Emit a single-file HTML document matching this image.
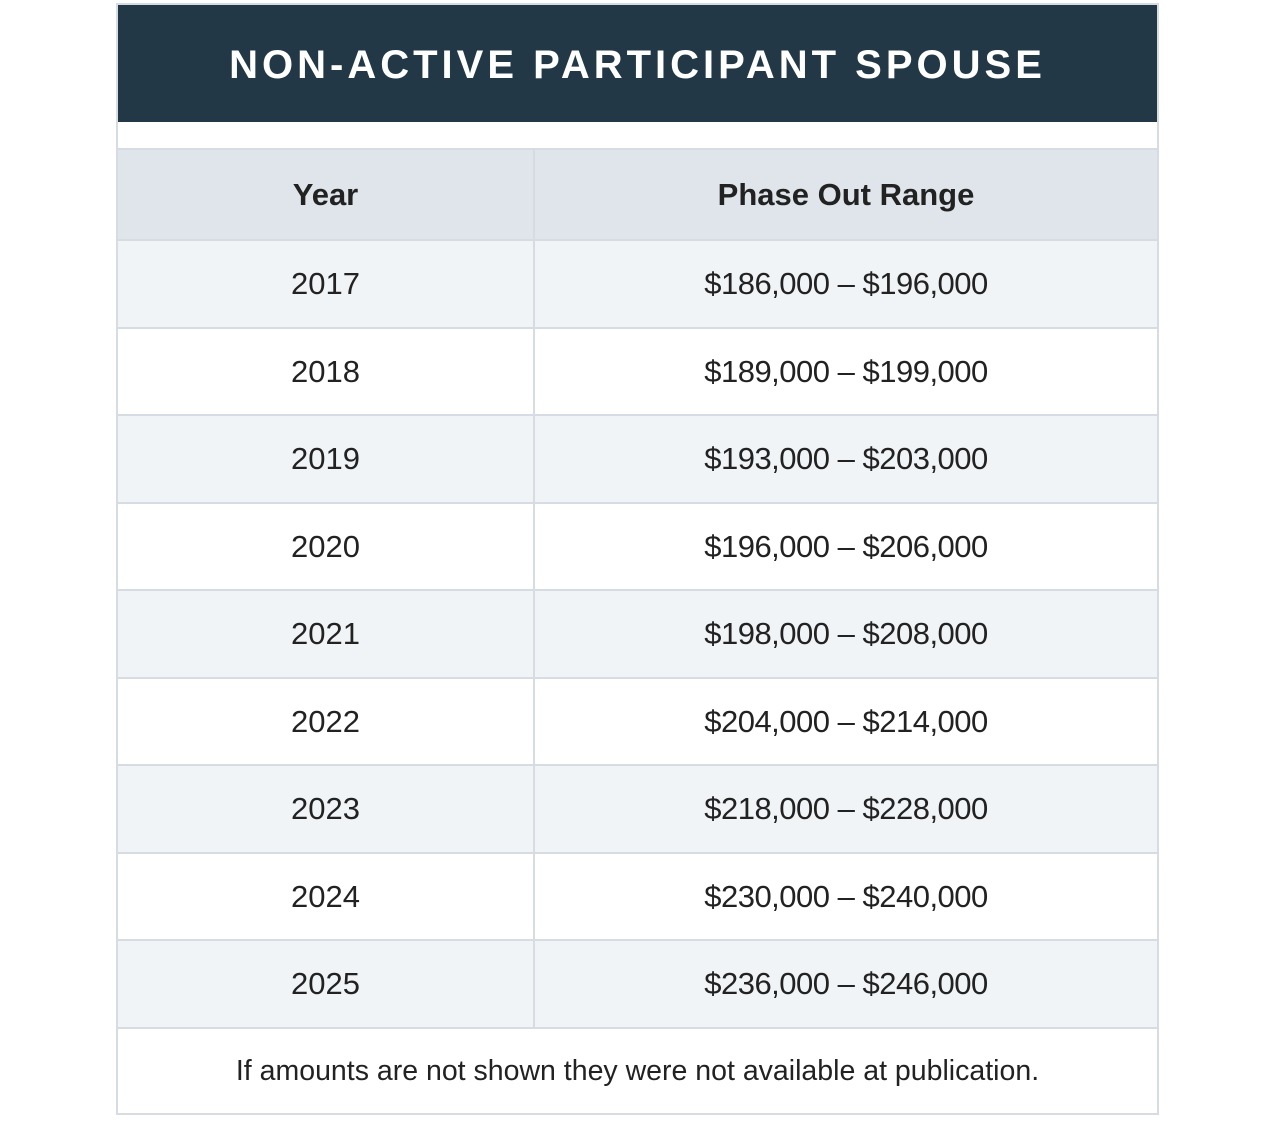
<!DOCTYPE html>
<html><head><meta charset="utf-8"><style>
body{margin:0;width:1275px;height:1136px;background:#fff;position:relative;font-family:"Liberation Sans",sans-serif;color:#222}
.box{position:absolute;left:116px;top:3px;width:1039px;height:1108px;border:2px solid #d6dce1;}
.hd{position:absolute;left:0;top:0;width:1039px;height:117px;background:#223847;color:#fff;font-weight:bold;font-size:40px;letter-spacing:4px;text-align:center;line-height:120px}
.row{position:absolute;left:0;width:1039px;border-top:2px solid #d6dce1;box-sizing:border-box}
.c1,.c2{position:absolute;top:0;bottom:0;display:flex;align-items:center;justify-content:center;font-size:31px}
.c2{letter-spacing:-0.5px}
.c1{left:0;width:415px;border-right:2px solid #d6dce1}
.c2{left:417px;width:622px}
.th .c1,.th .c2{font-weight:bold;letter-spacing:0}
.ft{position:absolute;left:0;width:1039px;top:1022px;height:86px;border-top:2px solid #d6dce1;display:flex;align-items:center;justify-content:center;font-size:28.5px;box-sizing:border-box}
</style></head><body>
<div class="box">
<div class="hd">NON-ACTIVE PARTICIPANT SPOUSE</div>
<div class="row th" style="top:143px;height:92px;background:#dfe5eb"><div class="c1">Year</div><div class="c2">Phase Out Range</div></div>
<div class="row" style="top:234px;height:88px;background:#f0f4f7"><div class="c1">2017</div><div class="c2">$186,000 – $196,000</div></div>
<div class="row" style="top:322px;height:87px;background:#fff"><div class="c1">2018</div><div class="c2">$189,000 – $199,000</div></div>
<div class="row" style="top:409px;height:88px;background:#f0f4f7"><div class="c1">2019</div><div class="c2">$193,000 – $203,000</div></div>
<div class="row" style="top:497px;height:87px;background:#fff"><div class="c1">2020</div><div class="c2">$196,000 – $206,000</div></div>
<div class="row" style="top:584px;height:88px;background:#f0f4f7"><div class="c1">2021</div><div class="c2">$198,000 – $208,000</div></div>
<div class="row" style="top:672px;height:87px;background:#fff"><div class="c1">2022</div><div class="c2">$204,000 – $214,000</div></div>
<div class="row" style="top:759px;height:88px;background:#f0f4f7"><div class="c1">2023</div><div class="c2">$218,000 – $228,000</div></div>
<div class="row" style="top:847px;height:87px;background:#fff"><div class="c1">2024</div><div class="c2">$230,000 – $240,000</div></div>
<div class="row" style="top:934px;height:88px;background:#f0f4f7"><div class="c1">2025</div><div class="c2">$236,000 – $246,000</div></div>
<div class="ft">If amounts are not shown they were not available at publication.</div>
</div>
</body></html>
